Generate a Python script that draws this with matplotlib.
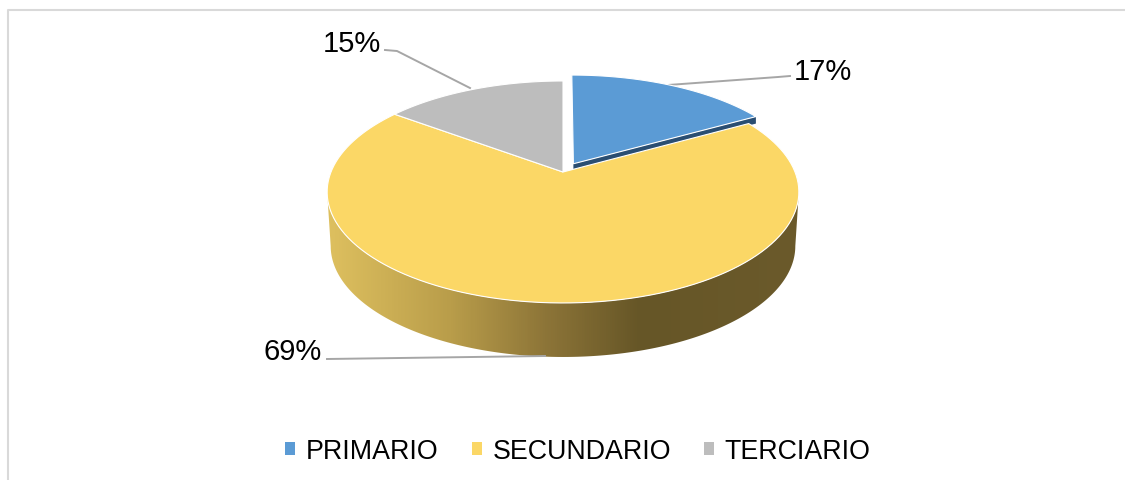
#! /usr/bin/env python3

import numpy as np
import matplotlib
matplotlib.use("Agg")
import matplotlib.pyplot as plt
from matplotlib.colors import LinearSegmentedColormap
from matplotlib.patches import Patch, Polygon

categories = ["PRIMARIO", "SECUNDARIO", "TERCIARIO"]
values = [17, 69, 15]
labels = ["17%", "69%", "15%"]
colors = ["#5B9BD5", "#FBD766", "#BDBDBD"]
blue_side = "#2A4E72"

# shading of the rim, left to right
rim_x = [327, 450, 545, 640, 800]
rim_colors = ["#DEC05F", "#B99D4A", "#8D7538", "#665627", "#6B5A2B"]

plt.rcParams["font.family"] = ["Liberation Sans", "DejaVu Sans"]

# pie geometry in pixels, with a perspective squeeze towards the back
cx, cy = 563, 173
bx, by = 232, 107.4
k = 0.18
depth = 54
explode = 0.09


def project(u, v, dy=0, scale=1):
    d = 1 - k * v
    return np.column_stack([cx + scale * bx * u / d, cy + dy + by * v / d])


def wedge(a0, a1, off=0):
    # angles in degrees clockwise from the top
    t = np.radians(np.linspace(a0, a1, 120))
    mid = np.radians((a0 + a1) / 2)
    ou, ov = off * np.sin(mid), -off * np.cos(mid)
    u = np.r_[ou, ou + np.sin(t)]
    v = np.r_[ov, ov - np.cos(t)]
    return project(u, v), (ou, ov)


fig = plt.figure(figsize=(11.25, 4.81), dpi=100)
ax = fig.add_axes([0, 0, 1, 1])

edges = np.r_[0, np.cumsum(values)] / sum(values) * 360

# side of the yellow slice, front half only so the wall ends are straight
wide = np.degrees(np.arccos(-k))
t = np.radians(np.linspace(wide, 360 - wide, 240))
top_rim = project(np.sin(t), -np.cos(t))
low_rim = project(np.sin(t), -np.cos(t), dy=depth, scale=0.985)
side = Polygon(np.r_[top_rim, low_rim[::-1]], closed=True, fc="none", ec="none")
ax.add_patch(side)
cmap = LinearSegmentedColormap.from_list(
    "rim", [((x - rim_x[0]) / (rim_x[-1] - rim_x[0]), c) for x, c in zip(rim_x, rim_colors)]
)
img = ax.imshow(
    np.linspace(0, 1, 480)[None, :], cmap=cmap, aspect="auto",
    extent=[rim_x[0], rim_x[-1], 360, 150], zorder=1
)
img.set_clip_path(side)

# thin dark edge below the pulled out blue slice
blue, off = wedge(edges[0], edges[1], explode)
sliver = np.r_[blue[[0, -1]], blue[[-1, 0]] + [0, 7]]
ax.add_patch(Polygon(sliver, closed=True, fc=blue_side, ec="none", zorder=2))

yellow, _ = wedge(edges[1], edges[2])
gray, _ = wedge(edges[2], edges[3])
ax.add_patch(Polygon(yellow, closed=True, fc=colors[1], ec="white", lw=0.8, zorder=3))
ax.add_patch(Polygon(gray, closed=True, fc=colors[2], ec="white", lw=0.8, zorder=3))
ax.add_patch(Polygon(blue, closed=True, fc=colors[0], ec="white", lw=0.8, zorder=4))

# leader lines and labels
leader = "#A6A6A6"
ax.plot([668, 778, 790], [86, 78, 77], color=leader, lw=1.4, zorder=2)
ax.plot([470, 397, 385], [89, 52, 51], color=leader, lw=1.4, zorder=2)
ax.plot([327, 545], [360, 357], color=leader, lw=1.4, zorder=2)
ax.text(794, 72, labels[0], fontsize=21, va="center", ha="left", color="black")
ax.text(322, 352, labels[1], fontsize=21, va="center", ha="right", color="black")
ax.text(381, 44, labels[2], fontsize=21, va="center", ha="right", color="black")

# chart frame, cut off on the right and at the bottom
ax.plot([8.2, 8.2, 1125], [481, 10.7, 10.7], color="#D9D9D9", lw=1.5)

handles = [Patch(fc=c, ec="none") for c in colors]
ax.legend(
    handles, categories, loc="center", bbox_to_anchor=(578 / 1125, 1 - 452 / 481),
    ncol=3, frameon=False, fontsize=19.3, handlelength=0.36, handleheight=0.36,
    handletextpad=0.4, columnspacing=1.25, borderpad=0
)

ax.set_xlim(0, 1125)
ax.set_ylim(481, 0)
ax.axis("off")
fig.savefig("out.png", dpi=100)
